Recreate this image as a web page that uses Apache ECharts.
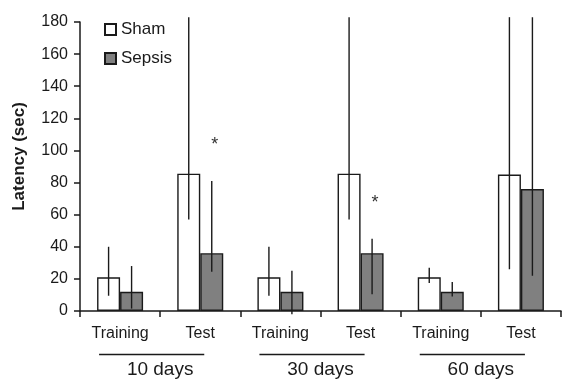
<!DOCTYPE html>
<html>
<head>
<meta charset="utf-8">
<script src="https://cdn.jsdelivr.net/npm/echarts@6/dist/echarts.min.js"></script>
<style>
  html, body { margin: 0; padding: 0; background: #fff; }
  #chart { width: 562px; height: 381px; }
</style>
</head>
<body>
<div id="chart"></div>
<script>
// Phases within each time point, and the time points they belong to
const phases = ['Training', 'Test', 'Training', 'Test', 'Training', 'Test'];
const timePoints = ['10 days', '30 days', '60 days'];

// Mean latency (sec) per phase
const shamMean = [21, 85.5, 21, 85.5, 21, 85];
const sepsisMean = [12, 36, 12, 36, 12, 76];

// Error bar extents (sec)
const shamLow = [9.5, 57, 9.5, 57, 17.5, 26];
const shamHigh = [40, 183, 40, 183, 27, 183];
const sepsisLow = [1.5, 24.5, -2, 10.5, 9, 22];
const sepsisHigh = [28, 81, 25, 45, 18, 183];

// Significance markers shown above the Sepsis bars
const sepsisMarks = ['', '*', '', '*', '', ''];

const yTicks = [0, 20, 40, 60, 80, 100, 120, 140, 160, 180];

const FONT = 'Liberation Sans, Arial, sans-serif';
const BAR_W = 23;
const INK = '#1a1a1a';

const chart = echarts.init(document.getElementById('chart'), null, { renderer: 'canvas' });

function errorSeries(name, low, high, side, marks) {
  return {
    name: name + ' error',
    type: 'custom',
    xAxisIndex: 0,
    z: 5,
    clip: false,
    silent: true,
    data: phases.map((p, i) => [i, low[i], high[i]]),
    renderItem: function (params, api) {
      const lo = api.coord([api.value(0), api.value(1)]);
      const hi = api.coord([api.value(0), api.value(2)]);
      const x = lo[0] + side * BAR_W / 2;
      const children = [{
        type: 'line',
        shape: { x1: x, y1: lo[1], x2: x, y2: hi[1] },
        style: { stroke: INK, lineWidth: 1.4 }
      }];
      const mark = marks ? marks[params.dataIndex] : '';
      if (mark) {
        children.push({
          type: 'text',
          x: x + 3,
          y: hi[1] - 36,
          style: {
            text: mark, fill: '#333', font: '18px ' + FONT,
            align: 'center', verticalAlign: 'middle'
          }
        });
      }
      return { type: 'group', children: children };
    }
  };
}

chart.setOption({
  animation: false,
  backgroundColor: '#fff',
  grid: { left: 80, right: 1, top: 22, bottom: 70, containLabel: false },
  legend: {
    orient: 'vertical',
    left: 99,
    top: 16,
    itemWidth: 11,
    itemHeight: 11,
    itemGap: 12,
    icon: 'rect',
    textStyle: { fontFamily: FONT, fontSize: 17, color: INK },
    data: ['Sham', 'Sepsis']
  },
  xAxis: [{
    type: 'category',
    data: phases,
    boundaryGap: true,
    axisLine: { lineStyle: { color: INK, width: 1.5 } },
    axisTick: { show: true, length: 6, lineStyle: { color: INK, width: 1.5 } },
    axisLabel: { fontFamily: FONT, fontSize: 16, color: INK, margin: 15, interval: 0 }
  }, {
    type: 'category',
    data: timePoints,
    position: 'bottom',
    axisLine: { show: false },
    axisTick: { show: false },
    axisLabel: { fontFamily: FONT, fontSize: 19, color: INK, margin: 49, interval: 0 }
  }],
  yAxis: {
    type: 'value',
    min: 0,
    max: 180,
    interval: 20,
    name: 'Latency (sec)',
    nameLocation: 'middle',
    nameGap: 52,
    nameRotate: 90,
    nameTextStyle: { fontFamily: FONT, fontSize: 17, fontWeight: 'bold', color: INK, padding: [0, 0, 0, 20] },
    axisLine: { show: true, lineStyle: { color: INK, width: 1.5 } },
    axisTick: { show: true, length: 6, lineStyle: { color: INK, width: 1.5 } },
    axisLabel: {
      fontFamily: FONT, fontSize: 16, color: INK, margin: 12,
      formatter: v => (yTicks.indexOf(v) >= 0 ? String(v) : '')
    },
    splitLine: { show: false }
  },
  series: [{
    name: 'Sham',
    type: 'bar',
    xAxisIndex: 0,
    data: shamMean,
    barWidth: BAR_W,
    barGap: '0%',
    itemStyle: { color: '#ffffff', borderColor: INK, borderWidth: 1.4 }
  }, {
    name: 'Sepsis',
    type: 'bar',
    xAxisIndex: 0,
    data: sepsisMean,
    barWidth: BAR_W,
    barGap: '0%',
    itemStyle: { color: '#808080', borderColor: INK, borderWidth: 1.4 }
  },
  errorSeries('Sham', shamLow, shamHigh, -1, null),
  errorSeries('Sepsis', sepsisLow, sepsisHigh, 1, sepsisMarks)
  ]
});

// Underlines grouping each Training/Test pair under its time point
const lines = [];
for (let g = 0; g < timePoints.length; g++) {
  const xa = chart.convertToPixel({ xAxisIndex: 0 }, 2 * g);
  const xb = chart.convertToPixel({ xAxisIndex: 0 }, 2 * g + 1);
  const y0 = chart.convertToPixel({ yAxisIndex: 0 }, 0);
  lines.push({
    type: 'line',
    shape: { x1: xa - 21, y1: y0 + 43.5, x2: xb + 4, y2: y0 + 43.5 },
    style: { stroke: INK, lineWidth: 1.4 }
  });
}
chart.setOption({ graphic: lines });
</script>
</body>
</html>
